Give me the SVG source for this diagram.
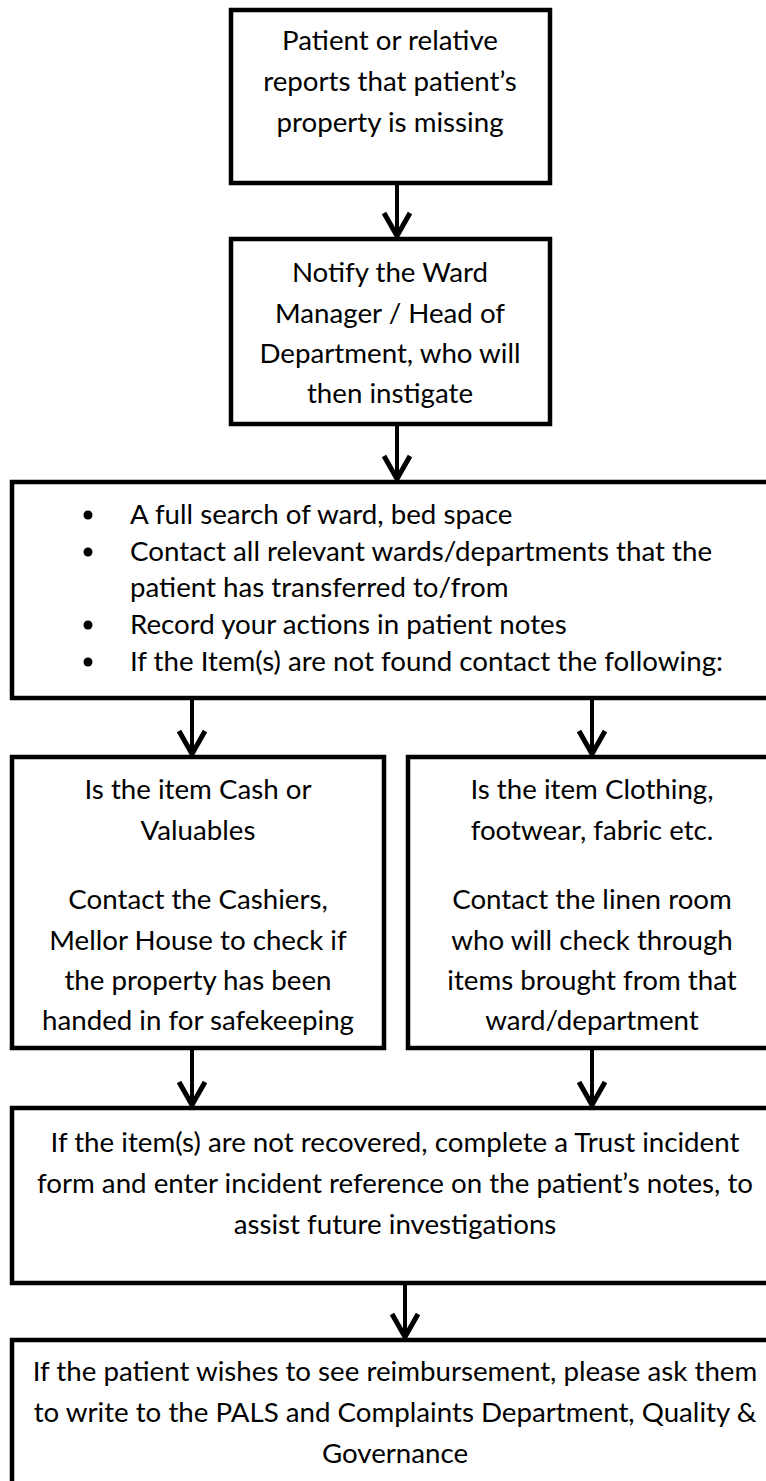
<svg xmlns="http://www.w3.org/2000/svg" width="766" height="1481" viewBox="0 0 766 1481">
<style>
  .box { fill: #ffffff; stroke: #000000; stroke-width: 4.5; }
  .t { font-family: Lato, "Open Sans", "Liberation Sans", sans-serif; font-size: 27.7px; fill: #000000; }
  .c { text-anchor: middle; }
  .shaft { stroke: #000000; stroke-width: 4; fill: none; }
  .head { stroke: #000000; stroke-width: 5; fill: none; stroke-linejoin: miter; stroke-miterlimit: 10; }
</style>
<rect x="0" y="0" width="766" height="1481" fill="#ffffff"/>

<g id="connectors">
  <line class="shaft" x1="397" y1="185" x2="397" y2="234"/>
  <polyline class="head" points="384,213 397,236 410,213"/>
  <line class="shaft" x1="397" y1="426" x2="397" y2="477"/>
  <polyline class="head" points="384,456 397,479 410,456"/>
  <line class="shaft" x1="192" y1="700" x2="192" y2="752"/>
  <polyline class="head" points="179,731 192,754 205,731"/>
  <line class="shaft" x1="592" y1="700" x2="592" y2="752"/>
  <polyline class="head" points="579,731 592,754 605,731"/>
  <line class="shaft" x1="192" y1="1050" x2="192" y2="1103"/>
  <polyline class="head" points="179,1082 192,1105 205,1082"/>
  <line class="shaft" x1="592" y1="1050" x2="592" y2="1103"/>
  <polyline class="head" points="579,1082 592,1105 605,1082"/>
  <line class="shaft" x1="405" y1="1285" x2="405" y2="1335"/>
  <polyline class="head" points="392,1314 405,1337 418,1314"/>
</g>

<g id="node-report">
  <rect class="box" x="231" y="10" width="319" height="173"/>
  <text class="t c" x="390" y="50">Patient or relative</text>
  <text class="t c" x="390" y="91">reports that patient’s</text>
  <text class="t c" x="390" y="132">property is missing</text>
</g>

<g id="node-notify">
  <rect class="box" x="231" y="239" width="319" height="185"/>
  <text class="t c" x="390" y="282">Notify the Ward</text>
  <text class="t c" x="390" y="323">Manager / Head of</text>
  <text class="t c" x="390" y="363">Department, who will</text>
  <text class="t c" x="390" y="403">then instigate</text>
</g>

<g id="node-search">
  <rect class="box" x="12" y="482" width="790" height="216"/>
  <circle cx="88" cy="515" r="4.5"/>
  <circle cx="88" cy="552" r="4.5"/>
  <circle cx="88" cy="625" r="4.5"/>
  <circle cx="88" cy="662" r="4.5"/>
  <text class="t" x="130" y="524">A full search of ward, bed space</text>
  <text class="t" x="130" y="561">Contact all relevant wards/departments that the</text>
  <text class="t" x="130" y="597">patient has transferred to/from</text>
  <text class="t" x="130" y="634">Record your actions in patient notes</text>
  <text class="t" x="130" y="671">If the Item(s) are not found contact the following:</text>
</g>

<g id="node-cash">
  <rect class="box" x="12" y="757" width="372" height="291"/>
  <text class="t c" x="198" y="799">Is the item Cash or</text>
  <text class="t c" x="198" y="840">Valuables</text>
  <text class="t c" x="198" y="909">Contact the Cashiers,</text>
  <text class="t c" x="198" y="950">Mellor House to check if</text>
  <text class="t c" x="198" y="990">the property has been</text>
  <text class="t c" x="198" y="1030">handed in for safekeeping</text>
</g>

<g id="node-clothing">
  <rect class="box" x="408" y="757" width="368" height="291"/>
  <text class="t c" x="592" y="799">Is the item Clothing,</text>
  <text class="t c" x="592" y="840">footwear, fabric etc.</text>
  <text class="t c" x="592" y="909">Contact the linen room</text>
  <text class="t c" x="592" y="950">who will check through</text>
  <text class="t c" x="592" y="990">items brought from that</text>
  <text class="t c" x="592" y="1030">ward/department</text>
</g>

<g id="node-incident">
  <rect class="box" x="12" y="1108" width="778" height="175"/>
  <text class="t c" x="395" y="1152">If the item(s) are not recovered, complete a Trust incident</text>
  <text class="t c" x="395" y="1193">form and enter incident reference on the patient’s notes, to</text>
  <text class="t c" x="395" y="1234">assist future investigations</text>
</g>

<g id="node-reimburse">
  <rect class="box" x="12" y="1340" width="778" height="170"/>
  <text class="t c" x="395" y="1381">If the patient wishes to see reimbursement, please ask them</text>
  <text class="t c" x="395" y="1422">to write to the PALS and Complaints Department, Quality &amp;</text>
  <text class="t c" x="395" y="1463">Governance</text>
</g>
</svg>
